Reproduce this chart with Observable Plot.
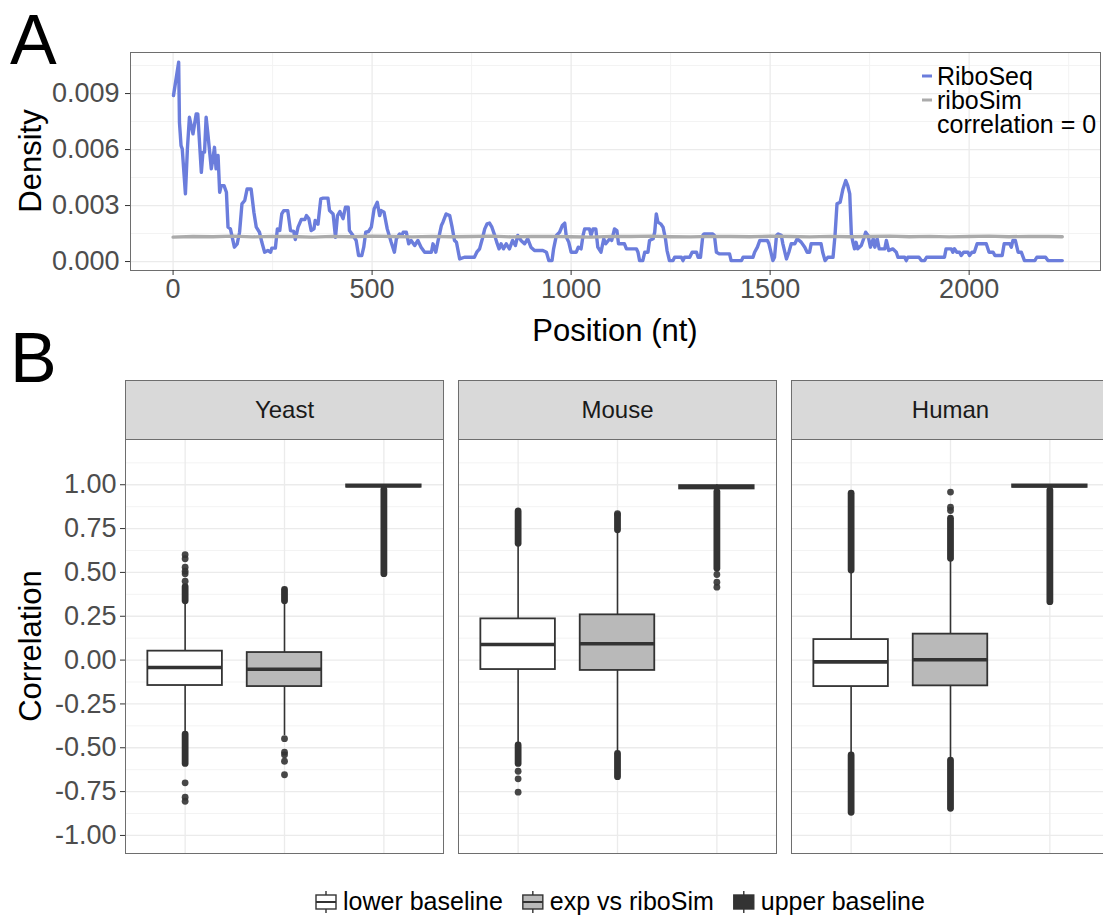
<!DOCTYPE html>
<html><head><meta charset="utf-8">
<script src="https://cdn.jsdelivr.net/npm/d3@7"></script>
<script src="https://cdn.jsdelivr.net/npm/@observablehq/plot@0.6"></script>
<style>
html,body{margin:0;padding:0;background:#fff;overflow:hidden;}
#wrap{position:relative;width:1103px;height:915px;overflow:hidden;background:#fff;font-family:"Liberation Sans",Arial,sans-serif;}
#wrap svg{max-width:none !important;position:absolute;}
</style></head><body><div id="wrap"></div>
<script>
// ---------- Panel A data ----------
const seqPos = [1,14,16,20,23,31,36,41,50,58,62,71,75,79,83,87,96,100,104,108,113,117,121,128,134,138,144,154,161,167,173,180,186,196,203,209,217,223,230,238,245,248,257,262,268,273,278,288,295,303,307,314,322,331,335,341,347,354,357,364,371,377,389,393,402,408,413,419,427,433,440,443,452,460,466,474,479,484,491,498,505,513,519,523,530,538,548,556,561,569,575,578,586,592,598,607,615,623,632,649,653,660,665,674,678,686,695,701,707,712,720,732,757,763,770,777,783,789,795,801,808,813,819,824,830,837,845,853,860,866,874,883,891,899,908,929,938,944,952,956,963,971,978,984,988,994,1000,1013,1018,1025,1030,1034,1046,1050,1055,1062,1067,1075,1082,1087,1097,1102,1109,1115,1119,1134,1139,1164,1168,1172,1180,1185,1193,1197,1206,1210,1214,1218,1225,1231,1237,1241,1247,1256,1260,1277,1281,1285,1298,1304,1315,1319,1325,1331,1334,1356,1360,1365,1373,1398,1402,1428,1432,1457,1461,1468,1474,1493,1497,1507,1511,1516,1520,1528,1532,1541,1547,1553,1562,1568,1578,1587,1593,1599,1603,1628,1632,1638,1645,1658,1663,1668,1676,1683,1690,1695,1700,1704,1708,1712,1716,1720,1729,1735,1740,1746,1752,1759,1763,1769,1774,1788,1792,1798,1808,1817,1821,1838,1842,1846,1874,1880,1888,1893,1938,1942,1955,1959,1963,1969,1976,1980,1986,1997,2001,2007,2013,2020,2043,2050,2060,2065,2083,2088,2102,2106,2110,2116,2123,2131,2139,2165,2170,2192,2198,2234];
const seqDens = [.00889,.01068,.00746,.00621,.00604,.00363,.00605,.00773,.00684,.00791,.00791,.00478,.00586,.00586,.00773,.00693,.00497,.0055,.00612,.00497,.00568,.00371,.00407,.00407,.00371,.00184,.00175,.00077,.00095,.00157,.00309,.00327,.00389,.00389,.00264,.00184,.00157,.00103,.0005,.00059,.0005,.00072,.00072,.00175,.00166,.00255,.00273,.00273,.00166,.00161,.00118,.00184,.00225,.00225,.00246,.0023,.00166,.00175,.0022,.002,.00336,.0034,.0034,.00273,.00255,.0013,.00246,.00268,.0023,.00291,.00291,.00166,.00139,.00113,.00032,.00032,.00077,.00157,.00161,.00184,.00282,.00318,.00246,.00273,.00264,.00175,.00103,.0005,.00122,.00148,.0014,.00157,.00157,.00095,.00113,.00086,.00113,.00077,.0005,.0005,.00095,.0005,.00104,.00193,.00211,.00255,.00246,.00184,.00113,.00103,.00014,.00023,.00023,.0005,.00068,.00122,.00175,.00202,.00206,.00184,.0014,.00104,.00068,.00095,.00068,.00095,.00068,.00113,.00086,.0014,.00113,.00095,.00122,.00077,.00059,.00059,.0005,.00005,.00005,.00068,.0014,.00157,.00193,.00206,.00131,.00104,.0005,.0005,.00077,.00068,.0014,.00175,.00175,.0014,.00175,.00175,.00077,.0005,.00122,.00095,.00122,.00113,.00175,.00166,.00095,.00095,.00068,.00068,.0005,.00005,.00005,.0005,.0005,.00113,.00122,.00157,.00255,.00211,.00202,.00184,.00122,.00059,.00005,.00005,.00023,.00023,.00005,.00023,.00023,.0005,.0005,.00023,.00023,.0014,.00148,.00148,.0014,.0005,.00041,.00041,.00005,.00005,.00023,.00023,.0005,.00077,.00113,.00113,.00095,.00005,.00023,.0014,.00148,.0014,.00095,.00014,.0005,.00095,.00095,.00122,.00104,.00077,.0005,.0005,.00095,.00095,.0005,.00005,.00023,.00023,.0014,.00309,.00318,.00389,.00434,.00407,.00363,.00148,.00103,.00068,.00103,.00068,.00086,.00122,.00157,.00139,.00077,.00122,.00077,.00122,.00068,.00068,.00113,.00059,.00068,.0005,.00023,.00023,.00005,.00023,.00023,.00005,.00005,.00023,.00023,.00068,.00068,.0005,.00068,.0005,.0005,.00032,.0005,.0005,.00032,.0005,.0005,.00095,.00095,.0005,.0005,.00032,.00032,.00095,.00095,.00077,.00113,.00113,.0005,.0005,.00005,.00005,.00023,.00023,.00005,.00005];
const simPos = [0,50,100,150,200,250,300,350,400,450,500,550,600,650,700,750,800,850,900,950,1000,1050,1100,1150,1200,1250,1300,1350,1400,1450,1500,1550,1600,1650,1700,1750,1800,1850,1900,1950,2000,2050,2100,2150,2200,2234];
const simDens = [.00131,.00134,.00133,.00136,.00132,.00135,.00134,.00131,.00135,.00133,.00136,.00134,.00132,.00135,.00133,.00134,.00136,.00132,.00134,.00135,.00133,.00131,.00135,.00134,.00136,.00133,.00132,.00135,.00134,.00133,.00136,.00134,.00132,.00135,.00133,.00134,.00136,.00133,.00135,.00132,.00134,.00136,.00133,.00135,.00134,.00133];
const xTicksA = [0,500,1000,1500,2000];
const xMinorA = [250,750,1250,1750,2250];
const yTicksA = [0,0.003,0.006,0.009];
const yMinorA = [0.0015,0.0045,0.0075,0.0105];
const seriesNames = ["RiboSeq","riboSim"];
const seriesColors = ["#6b7ddc","#ababab"];

// ---------- Panel B data ----------
const species = ["Yeast","Mouse","Human"];
const groups = ["lower baseline","exp vs riboSim","upper baseline"];
const groupFills = ["#ffffff","#b9b9b9","#333333"];
// rows: species, cols: groups
const loVals  = [[-0.42,-0.43,0.975],[-0.48,-0.53,0.965],[-0.54,-0.57,0.975]];
const q1Vals  = [[-0.145,-0.151,0.986],[-0.054,-0.059,0.976],[-0.151,-0.147,0.985]];
const medVals = [[-0.042,-0.052,0.994],[0.089,0.093,0.987],[-0.01,0.002,0.994]];
const q3Vals  = [[0.051,0.043,0.999],[0.235,0.258,0.995],[0.117,0.148,0.999]];
const hiVals  = [[0.33,0.33,1.0],[0.65,0.73,1.0],[0.50,0.57,1.0]];
// dense runs of outliers: [species, group, from, to]
const outlierRuns = [
  ["Yeast","lower baseline",0.335,0.416],["Yeast","lower baseline",-0.592,-0.425],
  ["Yeast","exp vs riboSim",0.335,0.40],
  ["Yeast","upper baseline",0.49,0.97],
  ["Mouse","lower baseline",0.663,0.848],["Mouse","lower baseline",-0.592,-0.487],
  ["Mouse","exp vs riboSim",0.74,0.825],["Mouse","exp vs riboSim",-0.668,-0.535],
  ["Mouse","upper baseline",0.521,0.958],
  ["Human","lower baseline",0.511,0.949],["Human","lower baseline",-0.871,-0.544],
  ["Human","exp vs riboSim",0.578,0.806],["Human","exp vs riboSim",-0.848,-0.573],
  ["Human","upper baseline",0.33,0.967]
];
// isolated outliers: [species, group, value]
const outlierDots = [
  ["Yeast","lower baseline",0.601],["Yeast","lower baseline",0.578],["Yeast","lower baseline",0.53],
  ["Yeast","lower baseline",0.507],["Yeast","lower baseline",0.492],["Yeast","lower baseline",0.45],
  ["Yeast","lower baseline",-0.70],["Yeast","lower baseline",-0.782],["Yeast","lower baseline",-0.805],
  ["Yeast","exp vs riboSim",-0.448],["Yeast","exp vs riboSim",-0.525],["Yeast","exp vs riboSim",-0.54],
  ["Yeast","exp vs riboSim",-0.577],["Yeast","exp vs riboSim",-0.654],
  ["Mouse","lower baseline",-0.634],["Mouse","lower baseline",-0.677],["Mouse","lower baseline",-0.753],
  ["Mouse","exp vs riboSim",0.835],
  ["Mouse","upper baseline",0.488],["Mouse","upper baseline",0.444],["Mouse","upper baseline",0.416],
  ["Human","exp vs riboSim",0.958],["Human","exp vs riboSim",0.872],["Human","exp vs riboSim",0.853]
];
const yTicksB = [-1,-0.75,-0.5,-0.25,0,0.25,0.5,0.75,1];
const yMinorB = [-0.875,-0.625,-0.375,-0.125,0.125,0.375,0.625,0.875,1.125];

// ---------- build ----------
const FONT = "Liberation Sans, Arial, Helvetica, sans-serif";
const GRID = "#ebebeb", GRIDMINOR = "#f3f3f3", BORDER = "#6e6e6e", INK = "#333333";
const wrap = document.getElementById("wrap");
function place(el, left, top){ el.style.left = left+"px"; el.style.top = top+"px"; wrap.appendChild(el); }

const riboSeq = seqPos.map((p,i)=>({pos:p, dens:seqDens[i]}));
const riboSim = simPos.map((p,i)=>({pos:p, dens:simDens[i]}));

const plotA = Plot.plot({
  width:1103, height:320, marginLeft:130, marginRight:3, marginTop:52, marginBottom:50,
  style:{fontFamily:FONT, fontSize:"27px", background:"transparent", overflow:"visible"},
  x:{domain:[-107,2330]},
  y:{domain:[-0.00048,0.0112]},
  marks:[
    Plot.gridX(xMinorA,{stroke:GRIDMINOR, strokeOpacity:1, strokeWidth:1}),
    Plot.gridY(yMinorA,{stroke:GRIDMINOR, strokeOpacity:1, strokeWidth:1}),
    Plot.gridX(xTicksA,{stroke:GRID, strokeOpacity:1, strokeWidth:1.3}),
    Plot.gridY(yTicksA,{stroke:GRID, strokeOpacity:1, strokeWidth:1.3}),
    Plot.line(riboSeq,{x:"pos", y:"dens", stroke:seriesColors[0], strokeWidth:3.4, strokeLinejoin:"round"}),
    Plot.line(riboSim,{x:"pos", y:"dens", stroke:seriesColors[1], strokeWidth:3.4}),
    Plot.frame({stroke:BORDER}),
    Plot.axisX(xTicksA,{tickSize:5, tickPadding:3, label:null, stroke:INK, color:"#4d4d4d", tickFormat:d=>String(d)}),
    Plot.axisY(yTicksA,{tickSize:5, tickPadding:6, label:null, stroke:INK, color:"#4d4d4d", tickFormat:d=>d.toFixed(3)})
  ]
});
place(plotA, 0, 0);

const fxOpts = {domain:species, paddingInner:0.045, paddingOuter:0, round:false, axis:null, label:null};

const strip = Plot.plot({
  width:1109, height:61, marginLeft:125, marginRight:0, marginTop:1, marginBottom:1,
  style:{fontFamily:FONT, fontSize:"24px", background:"transparent", overflow:"visible"},
  fx:fxOpts,
  marks:[
    Plot.frame({fill:"#d9d9d9", stroke:BORDER}),
    Plot.text(species,{fx:d=>d, text:d=>d, frameAnchor:"middle", fill:"#1a1a1a", fontSize:24})
  ]
});
place(strip, 0, 379);

const boxes = [];
species.forEach((s,i)=>groups.forEach((g,j)=>boxes.push({
  species:s, group:g, lo:loVals[i][j], q1:q1Vals[i][j], med:medVals[i][j], q3:q3Vals[i][j], hi:hiVals[i][j]
})));
const runs = outlierRuns.map(([s,g,a,b])=>({species:s, group:g, from:a, to:b}));
const dots = outlierDots.map(([s,g,v])=>({species:s, group:g, value:v}));

const plotB = Plot.plot({
  width:1109, height:420, marginLeft:125, marginRight:0, marginTop:2, marginBottom:4,
  style:{fontFamily:FONT, fontSize:"27px", background:"transparent", overflow:"visible"},
  fx:fxOpts,
  x:{domain:groups, paddingInner:0.25, paddingOuter:0.225, round:false, axis:null},
  y:{domain:[-1.103,1.258]},
  color:{domain:groups, range:groupFills},
  marks:[
    Plot.ruleY(yMinorB,{y:d=>d, stroke:GRIDMINOR, strokeWidth:1}),
    Plot.ruleY(yTicksB,{y:d=>d, stroke:GRID, strokeWidth:1.3}),
    Plot.ruleX(groups,{x:d=>d, stroke:GRID, strokeWidth:1.3}),
    Plot.ruleX(boxes,{fx:"species", x:"group", y1:"lo", y2:"hi", stroke:INK, strokeWidth:1.6}),
    Plot.barY(boxes,{fx:"species", x:"group", y1:"q1", y2:"q3", fill:"group", stroke:INK, strokeWidth:1.8}),
    Plot.tickY(boxes,{fx:"species", x:"group", y:"med", stroke:INK, strokeWidth:3.6}),
    Plot.ruleX(runs,{fx:"species", x:"group", y1:"from", y2:"to", stroke:INK, strokeWidth:6.8, strokeLinecap:"round"}),
    Plot.dot(dots,{fx:"species", x:"group", y:"value", r:3.4, fill:INK, fillOpacity:0.9, stroke:null}),
    Plot.frame({stroke:BORDER}),
    Plot.axisY(yTicksB,{tickSize:5, tickPadding:4, label:null, stroke:INK, color:"#4d4d4d", tickFormat:d=>d.toFixed(2)})
  ]
});
place(plotB, 0, 437);

// ---------- overlay texts & legends ----------
const NS = "http://www.w3.org/2000/svg";
const ov = document.createElementNS(NS,"svg");
ov.setAttribute("width",1103); ov.setAttribute("height",915);
ov.style.left="0px"; ov.style.top="0px"; ov.style.fontFamily=FONT;
wrap.appendChild(ov);
function txt(s, attrs){ const t=document.createElementNS(NS,"text"); t.textContent=s; for(const k in attrs) t.setAttribute(k,attrs[k]); ov.appendChild(t); return t; }
function el(tag, attrs){ const e=document.createElementNS(NS,tag); for(const k in attrs) e.setAttribute(k,attrs[k]); ov.appendChild(e); return e; }

txt("A",{x:10, y:64, "font-size":70, fill:"#000"});
txt("B",{x:10, y:382, "font-size":70, fill:"#000"});
txt("Density",{transform:"translate(41,161) rotate(-90)", "text-anchor":"middle", "font-size":31, fill:"#000"});
txt("Position (nt)",{x:615, y:341, "text-anchor":"middle", "font-size":31, fill:"#000"});
txt("Correlation",{transform:"translate(41,646) rotate(-90)", "text-anchor":"middle", "font-size":31, fill:"#000"});

// legend A
const legA = [seriesNames[0], seriesNames[1], "correlation = 0"];
legA.forEach((s,i)=>{
  const base = 85 + i*24;
  if (i < 2) el("line",{x1:922, x2:932, y1:base-9, y2:base-9, stroke:seriesColors[i], "stroke-width":3});
  txt(s,{x:937, y:base, "font-size":25, fill:"#000"});
});

// legend B
let lx = 315;
groups.forEach((g,i)=>{
  const cx = lx + 11;
  el("line",{x1:cx, x2:cx, y1:891, y2:913, stroke:INK, "stroke-width":1.4});
  el("rect",{x:lx+1, y:895, width:20, height:14, fill:groupFills[i], stroke:INK, "stroke-width":1.4});
  el("line",{x1:lx+1, x2:lx+21, y1:902, y2:902, stroke:INK, "stroke-width":2});
  const t = txt(g,{x:lx+28, y:910, "font-size":25, fill:"#000"});
  lx = lx + 28 + t.getComputedTextLength() + 19;
});
</script></body></html>
